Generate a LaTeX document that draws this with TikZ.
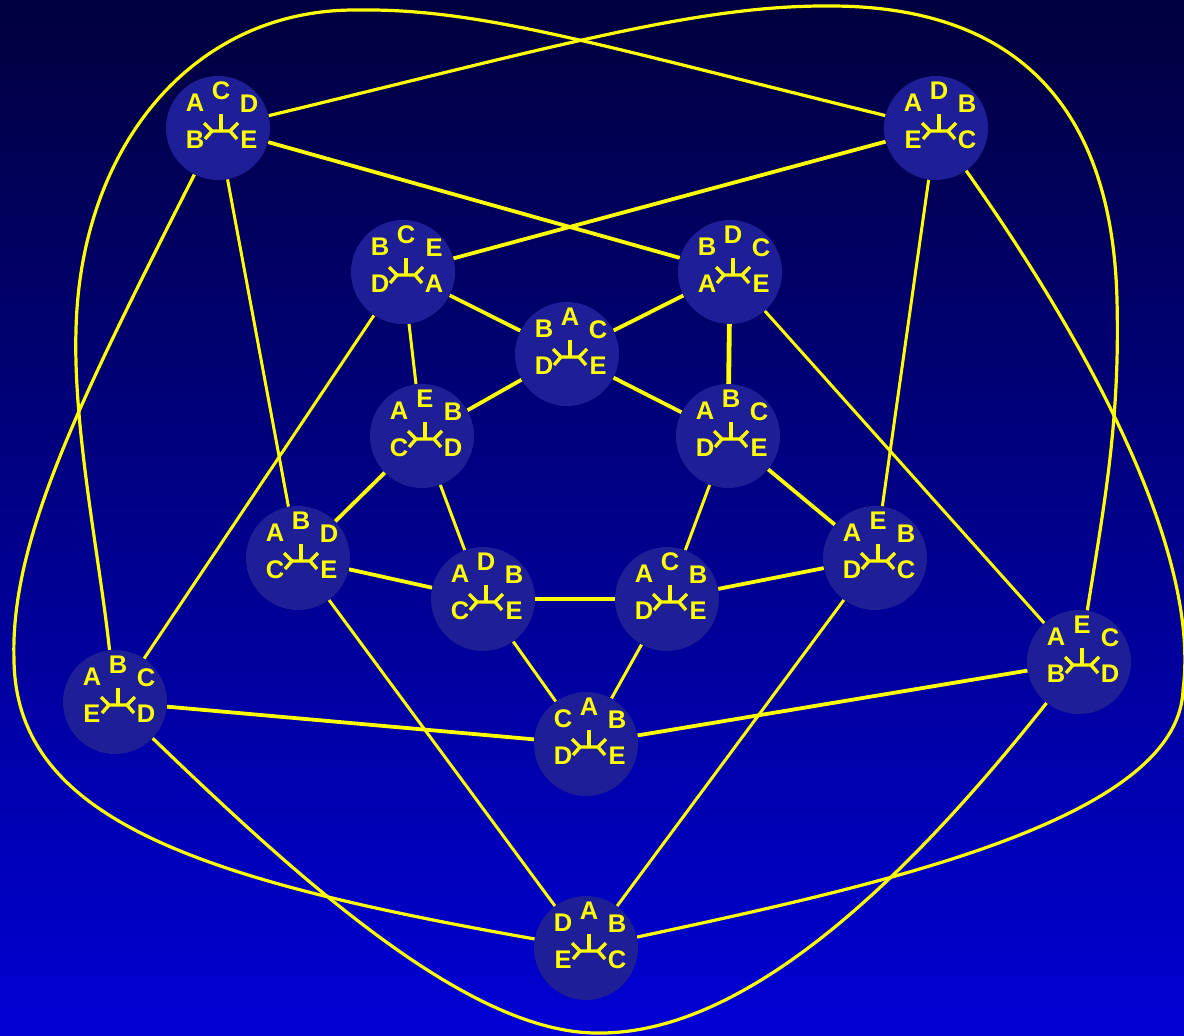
\documentclass[tikz,border=0pt]{standalone}
\usepackage{fontspec}
\setmainfont{Liberation Sans}
\usetikzlibrary{calc}
\definecolor{bgtop}{RGB}{0,0,62}
\definecolor{bgbot}{RGB}{0,0,212}
\definecolor{nodefill}{RGB}{30,30,150}
\definecolor{yel}{RGB}{255,255,0}
\pgfdeclarelayer{bg}
\pgfdeclarelayer{edges}
\pgfsetlayers{bg,edges,main}
\tikzset{
  tnode/.style={circle, fill=nodefill, draw=none, minimum size=104pt, inner sep=0pt},
  lbl/.style={text=yel, inner sep=0pt, font=\fontsize{25.5}{25.5}\selectfont\bfseries},
  glyph/.style={draw=yel, line width=3.4pt},
  thin/.style={draw=yel, line width=3pt},
  thick/.style={draw=yel, line width=3.8pt},
  curve/.style={draw=yel, line width=3.2pt},
}
\newcommand\tnd[8]{%
  \node[tnode] (#1) at (#2,#3) {};
  \begin{scope}[shift={(#2,#3)}]
    \node[lbl] (#1-t) at (3,-37) {#4};
    \node[lbl] (#1-ul) at (-23,-25) {#5};
    \node[lbl] (#1-ur) at (31,-24) {#6};
    \node[lbl] (#1-ll) at (-23,12) {#7};
    \node[lbl] (#1-lr) at (31,12) {#8};
    \draw[glyph] (3,3) -- (3,-14);
    \draw[glyph] (-14,-5) -- (-6,3) -- (12,3) -- (20,-5);
    \draw[glyph] (-13,11) -- (-6,3);
    \draw[glyph] (19,11) -- (12,3);
  \end{scope}}
\begin{document}
\begin{tikzpicture}[x=1pt,y=-1pt]
\begin{pgfonlayer}{bg}
  \shade[top color=bgtop, bottom color=bgbot] (0,0) rectangle (1184,1036);
\end{pgfonlayer}
\useasboundingbox (0,0) rectangle (1184,1036);
% nodes
\tnd{n1}{218}{128}{C}{A}{D}{B}{E}
\tnd{n2}{936}{128}{D}{A}{B}{E}{C}
\tnd{n3}{403}{272}{C}{B}{E}{D}{A}
\tnd{n4}{730}{272}{D}{B}{C}{A}{E}
\tnd{n5}{567}{354}{A}{B}{C}{D}{E}
\tnd{n6}{422}{436}{E}{A}{B}{C}{D}
\tnd{n7}{728}{436}{B}{A}{C}{D}{E}
\tnd{n8}{298}{558}{B}{A}{D}{C}{E}
\tnd{n9}{875}{558}{E}{A}{B}{D}{C}
\tnd{n10}{483}{599}{D}{A}{B}{C}{E}
\tnd{n11}{667}{599}{C}{A}{B}{D}{E}
\tnd{n12}{115}{702}{B}{A}{C}{E}{D}
\tnd{n13}{1079}{662}{E}{A}{C}{B}{D}
\tnd{n14}{586}{744}{A}{C}{B}{D}{E}
\tnd{n15}{586}{948}{A}{D}{B}{E}{C}
% connectors
\begin{pgfonlayer}{edges}
  \draw[thick] (n1) -- (n4);
  \draw[thick] (n2) -- (n3);
  \draw[thin] (n1) -- (n8);
  \draw[thin] (n2) -- (n9);
  \draw[thick] (n3) -- (n5);
  \draw[thick] (n4) -- (n5);
  \draw[thin] (n3) -- (n6);
  \draw[yel, line width=4.8pt] (n4) -- (n7);
  \draw[thick] (n5) -- (n6);
  \draw[thick] (n5) -- (n7);
  \draw[thin] (n3) -- (n12);
  \draw[thin] (n4) -- (n13);
  \draw[thick] (n6) -- (n8);
  \draw[thin] (n6) -- (n10);
  \draw[thin] (n7) -- (n11);
  \draw[thick] (n7) -- (n9);
  \draw[thick] (n8) -- (n10);
  \draw[thick] (n10) -- (n11);
  \draw[thick] (n11) -- (n9);
  \draw[thin] (n10) -- (n14);
  \draw[thin] (n11) -- (n14);
  \draw[thick] (n12) -- (n14);
  \draw[thick] (n13) -- (n14);
  \draw[thin] (n8) -- (n15);
  \draw[thin] (n9) -- (n15);
  % long curves
  \draw[curve] (n1) .. controls (560,45) and (700,5) .. (830,6)
     .. controls (1010,6) and (1112,100) .. (1117,300)
     .. controls (1120,420) and (1105,500) .. (n13);
  \draw[curve] (n2) .. controls (594,44) and (480,8) .. (355,10)
     .. controls (190,10) and (80,150) .. (76,330)
     .. controls (73,430) and (100,560) .. (n12);
  \draw[curve] (n1) .. controls (80,400) and (10,540) .. (14,660)
     .. controls (16,820) and (200,880) .. (n15);
  \draw[curve] (n2) .. controls (1100,360) and (1200,560) .. (1183,690)
     .. controls (1178,820) and (880,885) .. (n15);
  \draw[curve] (n12) .. controls (300,880) and (470,1035) .. (600,1033)
     .. controls (760,1033) and (930,850) .. (n13);
\end{pgfonlayer}
\end{tikzpicture}
\end{document}
